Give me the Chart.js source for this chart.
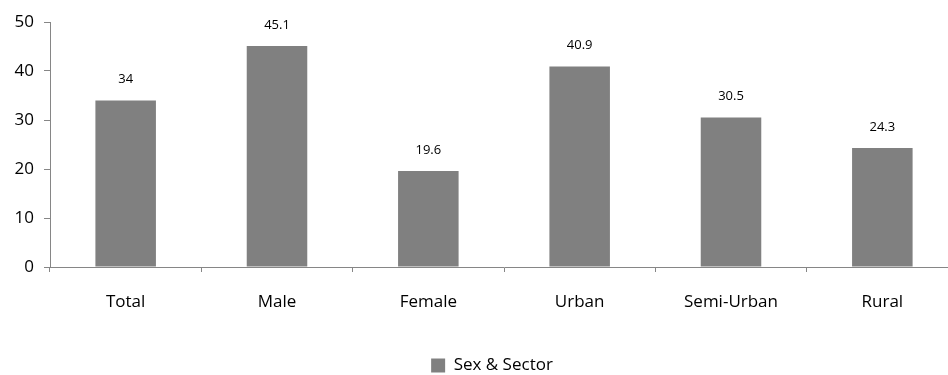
<!DOCTYPE html>
<html>
<head>
<meta charset="utf-8">
<script src="https://cdn.jsdelivr.net/npm/chart.js@4"></script>
<style>
  html, body { margin: 0; padding: 0; background: #fff; overflow: hidden; }
  #wrap { width: 984px; height: 375px; }
</style>
</head>
<body>
<div id="wrap"><canvas id="chartSector"></canvas></div>
<script>
const categories = ['Total', 'Male', 'Female', 'Urban', 'Semi-Urban', 'Rural'];
const sectorValues = [34, 45.1, 19.6, 40.9, 30.5, 24.3];
const yTicks = [0, 10, 20, 30, 40, 50];

const barColor = '#808080';
const axisColor = '#868686';
const fontFamily = "'Open Sans', 'Liberation Sans', sans-serif";

// value labels above each bar
const valueLabels = {
    id: 'valueLabels',
    afterDatasetsDraw(chart) {
        const ctx = chart.ctx;
        const meta = chart.getDatasetMeta(0);
        ctx.save();
        ctx.font = '13px ' + fontFamily;
        ctx.fillStyle = '#000';
        ctx.textAlign = 'center';
        ctx.textBaseline = 'middle';
        meta.data.forEach((bar, i) => {
            ctx.fillText(String(sectorValues[i]), bar.x, bar.y - 21);
        });
        ctx.restore();
    }
};

// nudge the legend a little to the right of centre
const legendShift = {
    id: 'legendShift',
    afterLayout(chart) {
        if (chart.legend) {
            chart.legend.left += 13;
            chart.legend.right += 13;
        }
    }
};

const chartSector = document.querySelector('#chartSector').getContext('2d');

new Chart(chartSector, {
    type: 'bar',
    data: {
        labels: categories,
        datasets: [
            {
                label: 'Sex & Sector',
                data: sectorValues,
                backgroundColor: barColor,
                barPercentage: 0.4,
                categoryPercentage: 1
            }
        ]
    },
    options: {
        responsive: true,
        maintainAspectRatio: false,
        animation: false,
        layout: {
            padding: { top: 22, right: 26, left: 0, bottom: -9 }
        },
        plugins: {
            tooltip: { enabled: false },
            legend: {
                position: 'bottom',
                labels: {
                    color: '#000',
                    font: { family: fontFamily, size: 17 },
                    boxWidth: 14,
                    boxHeight: 14,
                    padding: 2,
                    generateLabels(chart) {
                        return [{
                            text: 'Sex & Sector',
                            fillStyle: barColor,
                            strokeStyle: barColor,
                            lineWidth: 0,
                            datasetIndex: 0
                        }];
                    }
                }
            }
        },
        scales: {
            x: {
                grid: {
                    display: true,
                    drawOnChartArea: false,
                    offset: true,
                    tickLength: 5,
                    color: axisColor
                },
                border: { color: axisColor, width: 1 },
                ticks: {
                    color: '#000',
                    padding: 20,
                    font: { family: fontFamily, size: 17 }
                },
                afterFit(scale) { scale.height = 88; }
            },
            y: {
                min: 0,
                max: 50,
                afterBuildTicks(scale) {
                    scale.ticks = yTicks.map(v => ({ value: v }));
                },
                grid: {
                    display: true,
                    drawOnChartArea: false,
                    tickLength: 6,
                    color: axisColor
                },
                border: { color: axisColor, width: 1 },
                ticks: {
                    color: '#000',
                    padding: 10,
                    font: { family: fontFamily, size: 17 }
                },
                afterFit(scale) { scale.width = 50; }
            }
        }
    },
    plugins: [valueLabels, legendShift]
});
</script>
</body>
</html>
